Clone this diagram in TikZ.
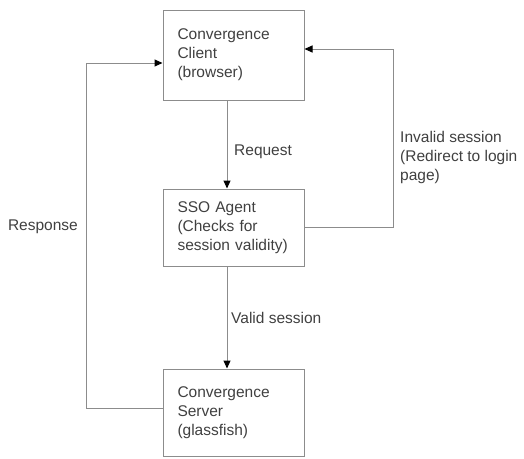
\documentclass[tikz,border=0pt]{standalone}
\usepackage{fontspec}
\setmainfont{Liberation Sans}
\usetikzlibrary{arrows.meta}

\begin{document}
\begin{tikzpicture}[
  x=1pt, y=1pt,
  block/.style={rectangle, draw=black!45, line width=1pt, text=black!75, align=left,
    text width=112pt, inner xsep=14.5pt, minimum height=#1, font=\fontsize{15.5}{19}\selectfont},
  flow/.style={draw=black!45, line width=1pt, -{Triangle[length=8pt, width=7pt, color=black]}},
  lbl/.style={text=black!75, font=\fontsize{15.5}{19}\selectfont, align=left, inner sep=0pt}
]
\useasboundingbox (0,0) rectangle (524,-458);

\node[block=90pt] (client) at (233.5,-55) {Convergence\\Client\\(browser)};
\node[block=77pt] (agent) at (233.5,-227.5) {SSO Agent\\(Checks for\\session validity)};
\node[block=87pt] (server) at (233.5,-412.5) {Convergence\\Server\\(glassfish)};

% Arrows
\draw[flow] ([xshift=-6.5pt]client.south) -- ([xshift=-6.5pt]agent.north);
\draw[flow] ([xshift=-6.5pt]agent.south) -- ([xshift=-6.5pt]server.north);
\draw[flow] (agent.east) -- ++(89,0) |- ([yshift=6pt]client.east);
\draw[flow] ([yshift=4.5pt]server.west) -- ++(-76,0) |- ([yshift=-8pt]client.west);

% Labels
\node[lbl, anchor=west] (request) at (234,-152) {Request};
\node[lbl, anchor=west] (valid) at (231,-318) {Valid session};
\node[lbl, anchor=west] (invalid) at (400,-157) {Invalid session\\(Redirect to login\\page)};
\node[lbl, anchor=east] (response) at (78,-227) {Response};

\end{tikzpicture}
\end{document}
